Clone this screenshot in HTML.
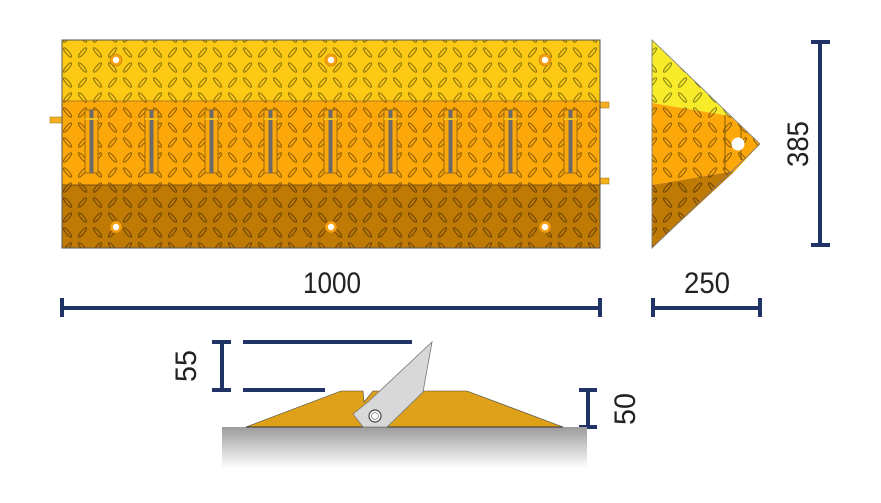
<!DOCTYPE html>
<html><head><meta charset="utf-8"><style>
html,body{margin:0;padding:0;background:#fff;width:881px;height:503px;overflow:hidden}
svg{display:block}
text{font-family:"Liberation Sans",sans-serif;fill:#222}
</style></head><body>
<svg width="881" height="503" viewBox="0 0 881 503" xmlns="http://www.w3.org/2000/svg">
<defs>
<pattern id="dp" width="30" height="30" patternUnits="userSpaceOnUse">
<g fill="none" stroke="#000" stroke-opacity="0.45" stroke-width="1">
<ellipse cx="7.5" cy="7.5" rx="6" ry="1.6" transform="rotate(-50 7.5 7.5)"/>
<ellipse cx="22.5" cy="7.5" rx="6" ry="1.6" transform="rotate(50 22.5 7.5)"/>
<ellipse cx="7.5" cy="22.5" rx="6" ry="1.6" transform="rotate(50 7.5 22.5)"/>
<ellipse cx="22.5" cy="22.5" rx="6" ry="1.6" transform="rotate(-50 22.5 22.5)"/>
</g>
</pattern>
<linearGradient id="gr" x1="0" y1="0" x2="0" y2="1">
<stop offset="0" stop-color="#9c9c9c"/><stop offset="1" stop-color="#fff"/>
</linearGradient>
</defs>

<rect x="50" y="117" width="13" height="6" fill="#f5b020" stroke="#a07010" stroke-width="0.5"/>
<rect x="599" y="102" width="10" height="6" fill="#f5b020" stroke="#a07010" stroke-width="0.5"/>
<rect x="599" y="178" width="10" height="6" fill="#f5b020" stroke="#a07010" stroke-width="0.5"/>

<rect x="62" y="40" width="538" height="61" fill="#fcca14"/>
<rect x="62" y="101" width="538" height="84" fill="#fda80a"/>
<rect x="62" y="185" width="538" height="63" fill="#bf7a06"/>
<rect x="62" y="40" width="538" height="208" fill="url(#dp)"/>
<line x1="62" y1="101" x2="600" y2="101" stroke="#b08020" stroke-width="1"/>
<line x1="62" y1="185" x2="600" y2="185" stroke="#7a5010" stroke-width="1"/>
<rect x="62" y="40" width="538" height="208" fill="none" stroke="#555" stroke-width="1"/>

<g>
<g transform="translate(85,0)"><rect x="0" y="110" width="13" height="63" fill="#fda80a" stroke="#9a6a10"/><rect x="4.5" y="110" width="4" height="63" fill="#6b6b6b"/><rect x="0" y="118" width="13" height="2" fill="#f0c020"/></g>
<g transform="translate(145,0)"><rect x="0" y="110" width="13" height="63" fill="#fda80a" stroke="#9a6a10"/><rect x="4.5" y="110" width="4" height="63" fill="#6b6b6b"/><rect x="0" y="118" width="13" height="2" fill="#f0c020"/></g>
<g transform="translate(205,0)"><rect x="0" y="110" width="13" height="63" fill="#fda80a" stroke="#9a6a10"/><rect x="4.5" y="110" width="4" height="63" fill="#6b6b6b"/><rect x="0" y="118" width="13" height="2" fill="#f0c020"/></g>
<g transform="translate(264,0)"><rect x="0" y="110" width="13" height="63" fill="#fda80a" stroke="#9a6a10"/><rect x="4.5" y="110" width="4" height="63" fill="#6b6b6b"/><rect x="0" y="118" width="13" height="2" fill="#f0c020"/></g>
<g transform="translate(324,0)"><rect x="0" y="110" width="13" height="63" fill="#fda80a" stroke="#9a6a10"/><rect x="4.5" y="110" width="4" height="63" fill="#6b6b6b"/><rect x="0" y="118" width="13" height="2" fill="#f0c020"/></g>
<g transform="translate(384,0)"><rect x="0" y="110" width="13" height="63" fill="#fda80a" stroke="#9a6a10"/><rect x="4.5" y="110" width="4" height="63" fill="#6b6b6b"/><rect x="0" y="118" width="13" height="2" fill="#f0c020"/></g>
<g transform="translate(444,0)"><rect x="0" y="110" width="13" height="63" fill="#fda80a" stroke="#9a6a10"/><rect x="4.5" y="110" width="4" height="63" fill="#6b6b6b"/><rect x="0" y="118" width="13" height="2" fill="#f0c020"/></g>
<g transform="translate(504,0)"><rect x="0" y="110" width="13" height="63" fill="#fda80a" stroke="#9a6a10"/><rect x="4.5" y="110" width="4" height="63" fill="#6b6b6b"/><rect x="0" y="118" width="13" height="2" fill="#f0c020"/></g>
<g transform="translate(564,0)"><rect x="0" y="110" width="13" height="63" fill="#fda80a" stroke="#9a6a10"/><rect x="4.5" y="110" width="4" height="63" fill="#6b6b6b"/><rect x="0" y="118" width="13" height="2" fill="#f0c020"/></g>
</g>

<g fill="#f5a010" stroke="#c07a06" stroke-width="0.6">
<circle cx="116" cy="60" r="6"/><circle cx="331" cy="60" r="6"/><circle cx="545" cy="60" r="6"/>
<circle cx="116" cy="227" r="6"/><circle cx="331" cy="227" r="6"/><circle cx="545" cy="227" r="6"/>
</g>
<g fill="#fff">
<circle cx="116" cy="60" r="3.2"/><circle cx="331" cy="60" r="3.2"/><circle cx="545" cy="60" r="3.2"/>
<circle cx="116" cy="227" r="3.2"/><circle cx="331" cy="227" r="3.2"/><circle cx="545" cy="227" r="3.2"/>
</g>

<polygon points="652,40 652,103 730,116" fill="#f8ec2a"/>
<polygon points="652,103 730,116 760,144 735,171 652,185" fill="#fda80a"/>
<polygon points="652,185 735,171 652,248" fill="#c07a06"/>
<polygon points="652,40 760,144 652,248" fill="url(#dp)"/>
<polygon points="652,40 760,144 652,248" fill="none" stroke="#777" stroke-width="0.8"/>
<line x1="725" y1="115" x2="725" y2="170" stroke="#6a4a10" stroke-width="0.8"/>
<line x1="741" y1="126" x2="741" y2="160" stroke="#6a4a10" stroke-width="0.8"/>
<circle cx="738" cy="144" r="6.5" fill="#fff"/>

<g stroke="#1f3366" stroke-width="4" fill="none">
<line x1="62" y1="308" x2="600" y2="308"/>
<line x1="62" y1="298" x2="62" y2="317"/><line x1="600" y1="298" x2="600" y2="317"/>
<line x1="653" y1="308" x2="760" y2="308"/>
<line x1="653" y1="298" x2="653" y2="317"/><line x1="760" y1="298" x2="760" y2="317"/>
<line x1="820" y1="42" x2="820" y2="245"/>
<line x1="811" y1="42" x2="830" y2="42"/><line x1="811" y1="245" x2="830" y2="245"/>
<line x1="222" y1="342" x2="222" y2="390"/>
<line x1="212" y1="342" x2="231" y2="342"/><line x1="212" y1="390" x2="231" y2="390"/>
<line x1="243" y1="342" x2="412" y2="342"/>
<line x1="243" y1="390" x2="325" y2="390"/>
<line x1="588" y1="390" x2="588" y2="427"/>
<line x1="579" y1="390" x2="597" y2="390"/><line x1="579" y1="427" x2="597" y2="427"/>
</g>
<text x="332" y="293" font-size="30" text-anchor="middle" textLength="58" lengthAdjust="spacingAndGlyphs">1000</text>
<text x="707" y="293" font-size="30" text-anchor="middle" textLength="46" lengthAdjust="spacingAndGlyphs">250</text>
<text transform="translate(808,144) rotate(-90)" font-size="30" text-anchor="middle" textLength="46" lengthAdjust="spacingAndGlyphs">385</text>
<text transform="translate(196,366) rotate(-90)" font-size="30" text-anchor="middle" textLength="32" lengthAdjust="spacingAndGlyphs">55</text>
<text transform="translate(635,409) rotate(-90)" font-size="30" text-anchor="middle" textLength="32" lengthAdjust="spacingAndGlyphs">50</text>

<rect x="222" y="427" width="365" height="41" fill="url(#gr)"/>
<polygon points="246,427 341,391 363,391 364,402 373,391 467,391 563,427" fill="#e0a11a" stroke="#444" stroke-width="0.6"/>
<line x1="246" y1="427" x2="563" y2="427" stroke="#333" stroke-width="1"/>
<polygon points="432,342 423,392 387,427 363,427 353,414 368,402" fill="#d8d8d8" stroke="#777" stroke-width="0.8"/>
<circle cx="375" cy="416" r="6" fill="#fff" stroke="#444" stroke-width="1.2"/>
<circle cx="375" cy="416" r="3.5" fill="#fff" stroke="#888" stroke-width="0.8"/>
</svg>
</body></html>
